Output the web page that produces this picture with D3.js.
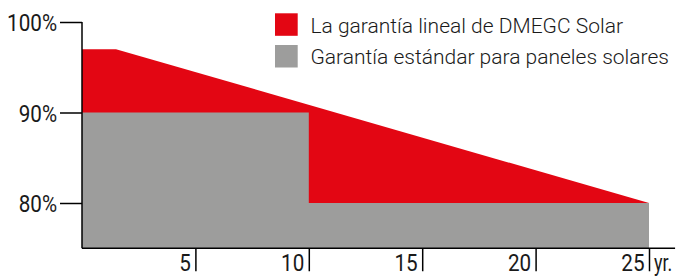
<!DOCTYPE html>
<html><head><meta charset="utf-8">
<script src="https://cdn.jsdelivr.net/npm/d3@7"></script>
<style>
html,body{margin:0;padding:0;background:#fff;}
text{font-family:Roboto,"Liberation Sans",sans-serif;fill:#1a1a1a;}
</style></head>
<body><svg id="c" width="677" height="276"></svg>
<script>
// Data
const dmegcYears = [0, 1.5, 25];
const dmegcValues = [97, 97, 80];
const standardYears = [0, 10, 10, 25];
const standardValues = [90, 90, 80, 80];
const xTicks = [5, 10, 15, 20, 25];
const yTicks = [80, 90, 100];
const seriesNames = ["La garantía lineal de DMEGC Solar", "Garantía estándar para paneles solares"];
const colors = ["#e30613", "#9d9d9c"];
const xUnit = "yr.";

const svg = d3.select("#c");
const x = d3.scaleLinear().domain([0, 25]).range([82, 649]);
const y = d3.scaleLinear().domain([80, 100]).range([203, 22]);
const yBase = 75, xEnd = 26.15;

const condense = (sel, f) => sel.each(function(){
  const w = this.getComputedTextLength();
  d3.select(this).attr("textLength", w * f).attr("lengthAdjust", "spacingAndGlyphs");
});

// Red area
const redPts = dmegcYears.map((t, i) => [t, dmegcValues[i]]);
svg.append("path")
  .datum(redPts)
  .attr("fill", colors[0])
  .attr("d", d3.area().x(d => x(d[0])).y0(y(yBase)).y1(d => y(d[1])));

// Gray area
const grayPts = standardYears.map((t, i) => [t, standardValues[i]]);
svg.append("path")
  .datum(grayPts)
  .attr("fill", colors[1])
  .attr("d", d3.area().x(d => x(d[0])).y0(y(yBase)).y1(d => y(d[1])));

// Y axis
const gy = svg.append("g").attr("transform", `translate(${x(0)},0)`)
  .call(d3.axisLeft(y).tickValues(yTicks).tickFormat(d => d + "%").tickSize(22).tickPadding(3));
gy.select(".domain").remove();
gy.selectAll(".tick line").attr("stroke", "#000").attr("stroke-width", 1.5);
gy.selectAll(".tick text").attr("font-size", 24).attr("fill", "#1a1a1a")
  .attr("font-family", "Roboto").attr("dy", "0.36em").call(condense, 0.86);
svg.append("line").attr("x1", x(0)).attr("x2", x(0)).attr("y1", y(100)).attr("y2", y(yBase))
  .attr("stroke", "#000").attr("stroke-width", 1.5);

// X axis
svg.append("line").attr("x1", x(0)).attr("x2", x(xEnd)).attr("y1", y(yBase)).attr("y2", y(yBase))
  .attr("stroke", "#000").attr("stroke-width", 1.5);
const gx = svg.append("g").attr("transform", `translate(0,${y(yBase)})`)
  .call(d3.axisBottom(x).tickValues(xTicks).tickSize(23).tickFormat(d3.format("d")));
gx.select(".domain").remove();
gx.selectAll(".tick line").attr("stroke", "#000").attr("stroke-width", 1.5);
gx.selectAll(".tick text").attr("font-size", 24).attr("fill", "#1a1a1a").attr("font-family", "Roboto")
  .attr("text-anchor", "end").attr("x", -5).attr("y", 23).attr("dy", 0).call(condense, 0.86);
svg.append("text").attr("x", x(25) + 5).attr("y", y(yBase) + 23).attr("font-size", 23)
  .text(xUnit).call(condense, 0.78);

// Legend
const lg = svg.append("g").attr("transform", "translate(275,13.3)");
seriesNames.forEach((name, i) => {
  lg.append("rect").attr("x", 0).attr("y", i * 31.7).attr("width", 22.7).attr("height", 22.5).attr("fill", colors[i]);
  lg.append("text").attr("x", 35.5).attr("y", i * 31 + 20).attr("font-size", 21).attr("font-weight", 300)
    .text(name);
});
</script></body></html>
